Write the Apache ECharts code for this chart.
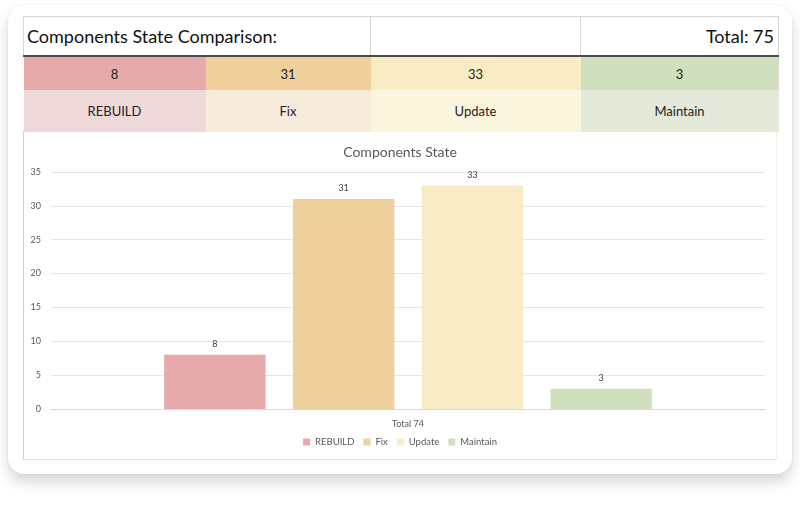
<!DOCTYPE html>
<html>
<head>
<meta charset="utf-8">
<script src="https://cdn.jsdelivr.net/npm/echarts@6/dist/echarts.min.js"></script>
<style>
  html, body { margin: 0; padding: 0; background: #fff; width: 800px; height: 506px; overflow: hidden; }
  body { font-family: Lato, "Open Sans", sans-serif; }
  .card {
    position: absolute; left: 8px; top: 5px; width: 784px; height: 469px;
    background: #fff; border-radius: 16px;
    box-shadow: 0 8px 14px rgba(0,0,0,0.16), 0 0 2px rgba(0,0,0,0.08);
  }
  table.summary {
    position: absolute; left: 23px; top: 16px; width: 755px;
    border-collapse: collapse; table-layout: fixed;
  }
  .summary td { padding: 0; text-align: center; color: #222; font-size: 13px; }
  .summary tr.head td { height: 38px; border: 1px solid #d6d6d6; border-bottom: 2px solid #4a4a4a; font-size: 18px; color: #111; }
  .summary tr.head td.left { text-align: left; padding-left: 3px; }
  .summary tr.head td.right { text-align: right; padding-right: 4px; }
  .summary tr.nums td { height: 33px; }
  .summary tr.names td { height: 42px; }
  #chart {
    position: absolute; left: 23px; top: 131px; width: 754px; height: 329px;
    border-left: 1px solid #d0d0d0; border-bottom: 1px solid #e2e2e2; border-right: 1px solid #f0f0f0;
    box-sizing: border-box;
  }
</style>
</head>
<body>
<div class="card"></div>
<table class="summary">
  <colgroup>
    <col style="width:182px"><col style="width:165px"><col style="width:210px"><col style="width:198px">
  </colgroup>
  <tr class="head">
    <td class="left" colspan="2" id="mainTitle"></td>
    <td></td>
    <td class="right" id="totalCell"></td>
  </tr>
  <tr class="nums" id="numRow"></tr>
  <tr class="names" id="nameRow"></tr>
</table>
<div id="chart"></div>
<script>
// 数据
var states = ['REBUILD', 'Fix', 'Update', 'Maintain'];
var counts = [8, 31, 33, 3];
var categories = ['Total 74'];
var headerTotal = 75;
var yTicks = [0, 5, 10, 15, 20, 25, 30, 35];

var strongColors = ['#e5aaa9', '#efd09d', '#f9ecc4', '#d0dfbd'];
var softColors = ['#efd8d9', '#f7ecdb', '#fcf5de', '#e4ead9'];

// 上方表格
document.getElementById('mainTitle').textContent = 'Components State Comparison:';
document.getElementById('totalCell').textContent = 'Total: ' + headerTotal;
var numRow = document.getElementById('numRow');
var nameRow = document.getElementById('nameRow');
states.forEach(function (s, i) {
  var a = document.createElement('td');
  a.textContent = counts[i];
  a.style.background = strongColors[i];
  numRow.appendChild(a);
  var b = document.createElement('td');
  b.textContent = s;
  b.style.background = softColors[i];
  nameRow.appendChild(b);
});

var chart = echarts.init(document.getElementById('chart'));
chart.setOption({
  animation: false,
  textStyle: { fontFamily: 'Lato, "Open Sans", sans-serif' },
  title: {
    text: 'Components State',
    left: 'center',
    top: 9,
    textStyle: { fontSize: 14, fontWeight: 'normal', color: '#595959' }
  },
  legend: {
    bottom: 7,
    left: 'center',
    itemWidth: 7,
    itemHeight: 7,
    itemGap: 9,
    icon: 'rect',
    textStyle: { fontSize: 9.5, color: '#595959' },
    data: states
  },
  grid: { left: 27, right: 11, top: 41, bottom: 50 },
  xAxis: {
    type: 'category',
    data: categories,
    axisTick: { show: false },
    axisLine: { lineStyle: { color: '#d9d9d9' } },
    axisLabel: { color: '#595959', fontSize: 9, margin: 11 }
  },
  yAxis: {
    type: 'value',
    min: yTicks[0],
    max: yTicks[yTicks.length - 1],
    interval: 5,
    axisLine: { show: false },
    axisTick: { show: false },
    axisLabel: { color: '#595959', fontSize: 9, margin: 10 },
    splitLine: { lineStyle: { color: '#e6e6e6' } }
  },
  series: states.map(function (s, i) {
    return {
      name: s,
      type: 'bar',
      data: [counts[i]],
      barWidth: '14.2%',
      barGap: '27%',
      itemStyle: { color: strongColors[i] },
      label: { show: true, position: 'top', distance: 6, fontSize: 9, color: '#404040' }
    };
  })
});
</script>
</body>
</html>
